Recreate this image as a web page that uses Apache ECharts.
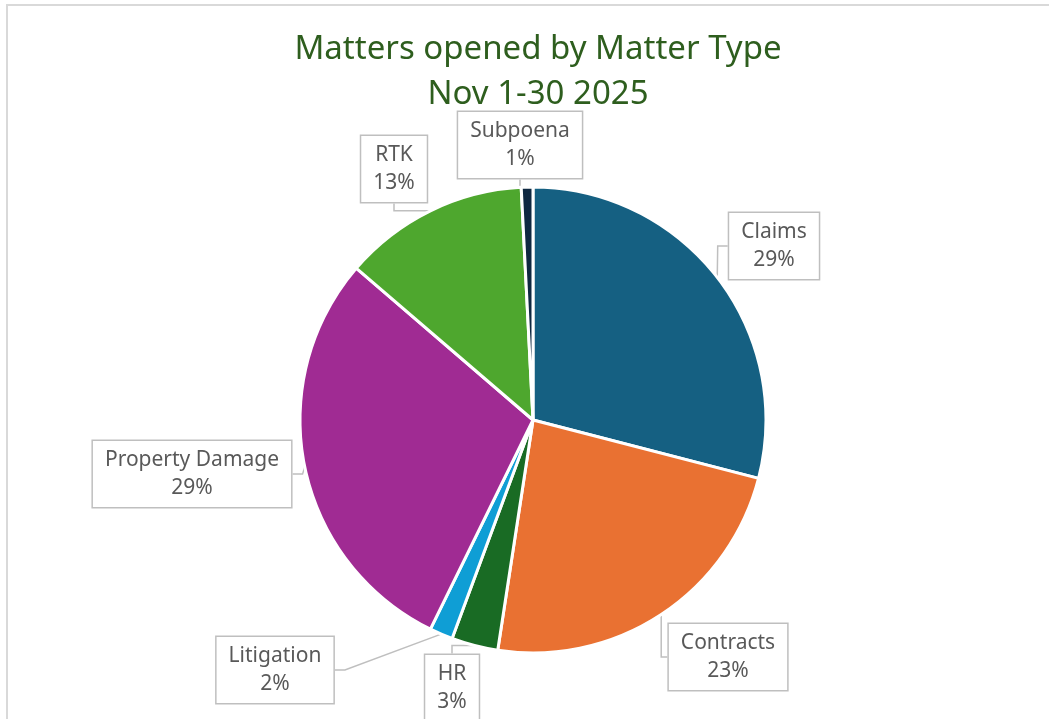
<!DOCTYPE html>
<html>
<head>
<meta charset="utf-8">
<script src="https://cdn.jsdelivr.net/npm/echarts@6/dist/echarts.min.js"></script>
<style>
html,body{margin:0;padding:0;background:#fff;}
#c{width:1049px;height:719px;}
</style>
</head>
<body>
<div id="c"></div>
<script>
const categories = ['Claims','Contracts','HR','Litigation','Property Damage','RTK','Subpoena'];
const values = [36, 29, 4, 2, 36, 16, 1];
const colors = ['#156082','#E97132','#196B24','#0F9ED5','#A02B93','#4EA72E','#0E2841'];
const titleLines = ['Matters opened by Matter Type','Nov 1-30 2025'];

// label box centres (layout, px)
const labelCenters = [[774,246],[728,657],[452,688],[275,670],[192,474],[394,169],[520,145]];

const chart = echarts.init(document.getElementById('c'));
const FONT = 'Noto Sans';
chart.setOption({
  animation:false,
  graphic:[
    {type:'line', shape:{x1:6,y1:5,x2:1049,y2:5}, style:{stroke:'#d9d9d9', lineWidth:2}},
    {type:'line', shape:{x1:7,y1:4,x2:7,y2:719}, style:{stroke:'#d9d9d9', lineWidth:2}}
  ],
  title:{
    text: titleLines.join('\n'),
    left: 533, top: 22, textAlign:'center',
    textStyle:{fontFamily:FONT, fontSize:33, fontWeight:'normal', color:'#2E5E1E', lineHeight:45}
  },
  series:[{
    type:'pie',
    center:[533,420],
    radius:[0,233],
    startAngle:90,
    clockwise:true,
    itemStyle:{borderColor:'#fff', borderWidth:3},
    data: categories.map((n,i)=>({name:n, value:values[i], itemStyle:{color:colors[i]}})),
    label:{
      show:true,
      formatter: p => p.name + '\n' + Math.round(p.percent) + '%',
      fontFamily:FONT, fontSize:21, color:'#595959', lineHeight:28,
      backgroundColor:'#fff', borderColor:'#bfbfbf', borderWidth:1.5,
      padding:[5,12,5,12], align:'center'
    },
    labelLine:{show:true, lineStyle:{color:'#bfbfbf', width:1.5}, length:10, length2:10},
    labelLayout: function(p){
      const c = labelCenters[p.dataIndex];
      return {x:c[0], y:c[1], align:'center', verticalAlign:'middle'};
    }
  }]
});
</script>
</body>
</html>
